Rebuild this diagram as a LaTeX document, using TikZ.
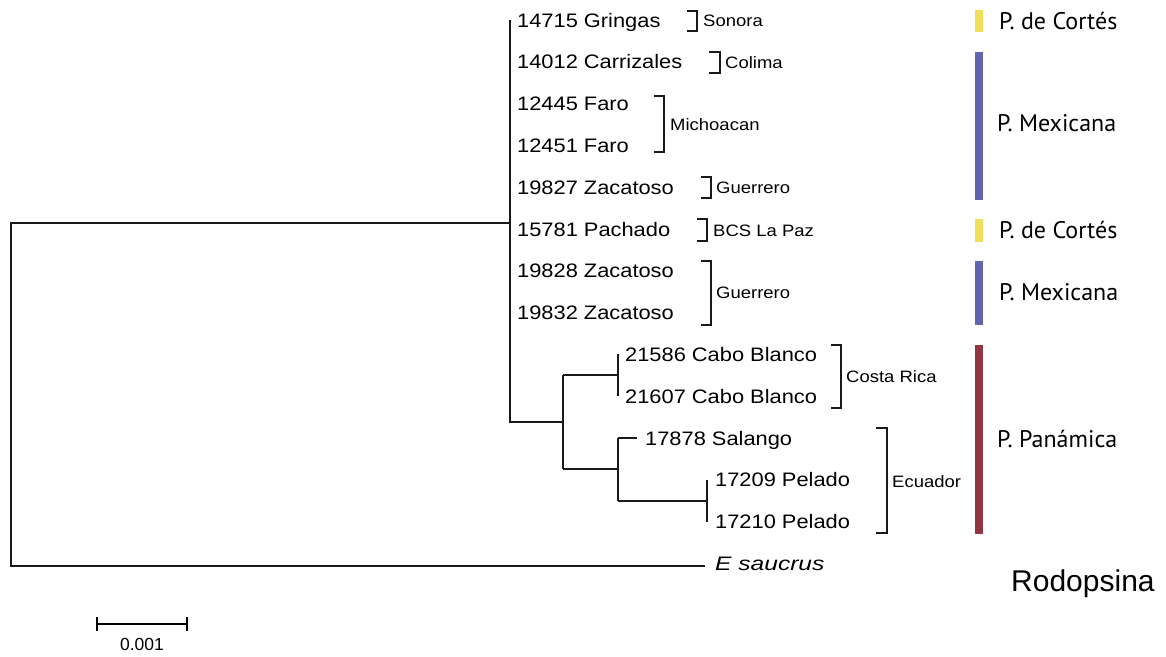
\documentclass[tikz,border=0pt]{standalone}
\usepackage{fontspec}
\setmainfont{Liberation Sans}
\newfontfamily\taxfont[FakeStretch=1.12]{Liberation Sans}
\newfontfamily\esfont[FakeStretch=1.26]{Liberation Sans}
\newfontfamily\popfont{PT Sans}
\definecolor{cyel}{RGB}{238,224,92}
\definecolor{cblu}{RGB}{99,101,175}
\definecolor{cred}{RGB}{148,54,66}
\begin{document}
\begin{tikzpicture}[x=1pt,y=-1pt,
  branch/.style={line width=1.7pt,black!90},
  brk/.style={line width=1.4pt,black!90},
  taxon/.style={anchor=base west,inner sep=0pt,font=\taxfont\fontsize{19.5}{22}\selectfont},
  region/.style={anchor=base west,inner sep=0pt,font=\taxfont\fontsize{16.5}{19}\selectfont},
  pop/.style={anchor=base west,inner sep=0pt,font=\popfont\fontsize{24}{28}\selectfont}]
\useasboundingbox (0,0) rectangle (1166,656);

% taxa
\node[taxon] (t1) at (517,27) {14715 Gringas};
\node[taxon] (t2) at (517,68.8) {14012 Carrizales};
\node[taxon] (t3) at (517,110.6) {12445 Faro};
\node[taxon] (t4) at (517,152.4) {12451 Faro};
\node[taxon] (t5) at (517,194.2) {19827 Zacatoso};
\node[taxon] (t6) at (517,236) {15781 Pachado};
\node[taxon] (t7) at (517,277.8) {19828 Zacatoso};
\node[taxon] (t8) at (517,319.6) {19832 Zacatoso};
\node[taxon] (t9) at (625,361.4) {21586 Cabo Blanco};
\node[taxon] (t10) at (625,403.2) {21607 Cabo Blanco};
\node[taxon] (t11) at (645,445) {17878 Salango};
\node[taxon] (t12) at (715,486.8) {17209 Pelado};
\node[taxon] (t13) at (715,528.6) {17210 Pelado};
\node[anchor=base west,inner sep=0pt,font=\esfont\itshape\fontsize{19.5}{22}\selectfont] (t14) at (715,570.5) {E saucrus};

% tree coordinates
\coordinate (rT) at (11,223);
\coordinate (rB) at (11,566);
\coordinate (mJ) at (510,223);
\coordinate (mT) at (510,20);
\coordinate (mB) at (510,422);
\coordinate (pJ) at (563,422);
\coordinate (pT) at (563,375);
\coordinate (pB) at (563,469);
\coordinate (cJ) at (618,375);
\coordinate (cT) at (618,354.4);
\coordinate (cB) at (618,396.2);
\coordinate (eJ) at (618,469);
\coordinate (eT) at (618,438);
\coordinate (eB) at (618,500.7);
\coordinate (sT) at (637,438);
\coordinate (lJ) at (707,500.7);
\coordinate (lT) at (707,479.8);
\coordinate (lB) at (707,521.6);
\coordinate (esT) at (705,566);

\draw[branch] (mJ) -- (rT) -- (rB) -- (esT);
\draw[branch] (mT) -- (mB) -- (pJ);
\draw[branch] (pT) -- (pB);
\draw[branch] (pT) -- (cJ);
\draw[branch] (cT) -- (cB);
\draw[branch] (pB) -- (eJ);
\draw[branch] (eT) -- (eB);
\draw[branch] (eT) -- (sT);
\draw[branch] (eB) -- (lJ);
\draw[branch] (lT) -- (lB);

% region brackets
\draw[brk] (687,11) -- (697,11) -- (697,31) -- (687,31);
\node[region] (r1) at (703,26) {Sonora};
\draw[brk] (709,52) -- (720,52) -- (720,73) -- (709,73);
\node[region] (r2) at (725,68) {Colima};
\draw[brk] (654,96) -- (664,96) -- (664,152) -- (654,152);
\node[region] (r3) at (670,130) {Michoacan};
\draw[brk] (701,177) -- (711,177) -- (711,198) -- (701,198);
\node[region] (r4) at (716,193) {Guerrero};
\draw[brk] (697,219) -- (707,219) -- (707,241) -- (697,241);
\node[region] (r5) at (713,236) {BCS La Paz};
\draw[brk] (701,261) -- (711,261) -- (711,325) -- (701,325);
\node[region] (r6) at (716,298.5) {Guerrero};
\draw[brk] (831,345) -- (841,345) -- (841,408) -- (831,408);
\node[region] (r7) at (846,382) {Costa Rica};
\draw[brk] (876,428) -- (887,428) -- (887,533) -- (876,533);
\node[region] (r8) at (892,487) {Ecuador};

% population bars
\fill[cyel] (975,10) rectangle (983,32);
\fill[cblu] (975,52) rectangle (983,200);
\fill[cyel] (975,219) rectangle (983,242);
\fill[cblu] (975,261) rectangle (983,325);
\fill[cred] (975,345) rectangle (983,534);
\node[pop] (p1) at (999,29.5) {P. de Cortés};
\node[pop] (p2) at (997,131.5) {P. Mexicana};
\node[pop] (p3) at (999,238.5) {P. de Cortés};
\node[pop] (p4) at (999,300.5) {P. Mexicana};
\node[pop] (p5) at (997,447) {P. Panámica};

\node[anchor=base west,inner sep=0pt,font=\fontsize{30}{34}\selectfont] (title) at (1011,591) {Rodopsina};

% scale bar
\coordinate (sbL) at (97,624);
\coordinate (sbR) at (187,624);
\draw[line width=1.5pt] (sbL) -- (sbR);
\draw[line width=1.5pt] (97,617) -- (97,631);
\draw[line width=1.5pt] (187,617) -- (187,631);
\node[anchor=base,inner sep=0pt,font=\fontsize{17.5}{20}\selectfont] (sbl) at (142,650) {0.001};
\end{tikzpicture}
\end{document}
